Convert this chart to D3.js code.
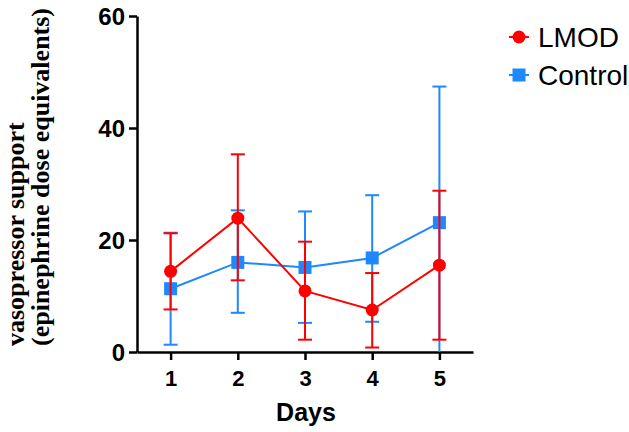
<!DOCTYPE html>
<html>
<head>
<meta charset="utf-8">
<script src="https://cdn.jsdelivr.net/npm/d3@7"></script>
<style>
  html, body { margin: 0; padding: 0; background: #fff; }
  svg { display: block; }
</style>
</head>
<body>
<svg id="chart" width="629" height="432"></svg>
<script>
const days = [1, 2, 3, 4, 5];
const yTicks = [0, 20, 40, 60];
const lmodMean = [14.4, 23.9, 10.9, 7.5, 15.5];
const lmodLow  = [7.6, 12.8, 2.2, 0.8, 2.2];
const lmodHigh = [21.2, 35.3, 19.7, 14.1, 28.8];
const ctrlMean = [11.3, 16.0, 15.1, 16.8, 23.1];
const ctrlLow  = [1.3, 7.0, 5.2, 5.4, 0];
const ctrlHigh = [21.3, 25.3, 25.1, 28.0, 47.4];
const seriesNames = ["LMOD", "Control"];
const colors = ["#ff0000", "#1e88ff"];

const svg = d3.select("#chart");
const x = d3.scaleLinear().domain([0.5, 5.5]).range([137, 473]);
const y = d3.scaleLinear().domain([0, 60]).range([352, 16]);

// axes
const xAxis = svg.append("g").attr("transform", "translate(0,352)")
  .call(d3.axisBottom(x).tickValues(days).tickFormat(d3.format("d")).tickSize(8).tickSizeOuter(0).tickPadding(10));
const yAxis = svg.append("g").attr("transform", "translate(137,0)")
  .call(d3.axisLeft(y).tickValues(yTicks).tickSize(8).tickSizeOuter(0).tickPadding(4));
[xAxis, yAxis].forEach(g => {
  g.select(".domain").attr("stroke", "#000").attr("stroke-width", 2.5);
  g.selectAll(".tick line").attr("stroke", "#000").attr("stroke-width", 2.5);
  g.selectAll(".tick text").attr("fill", "#000")
    .style("font-family", "'Liberation Sans', Arial, sans-serif").style("font-weight", "bold");
});
xAxis.selectAll(".tick text").style("font-size", "22px");
yAxis.selectAll(".tick text").style("font-size", "24px").attr("dy", "0.36em");

svg.append("text").attr("x", 306).attr("y", 421).attr("text-anchor", "middle")
  .style("font-family", "'Liberation Sans', Arial, sans-serif").style("font-weight", "bold")
  .style("font-size", "25px").text("Days");

const yt = svg.append("text").attr("transform", "translate(0,346) rotate(-90)")
  .style("font-family", "'Liberation Serif', 'Times New Roman', serif").style("font-weight", "bold")
  .style("font-size", "26px").attr("text-anchor", "start");
yt.append("tspan").attr("x", 0).attr("y", 24).text("vasopressor support");
yt.append("tspan").attr("x", 0).attr("y", 49).text("(epinephrine dose equivalents)");

const series = [
  {name: seriesNames[0], color: colors[0], mean: lmodMean, low: lmodLow, high: lmodHigh, shape: "circle"},
  {name: seriesNames[1], color: colors[1], mean: ctrlMean, low: ctrlLow, high: ctrlHigh, shape: "square"}
];
const capW = 7;
series.slice().reverse().forEach(s => {
  const g = svg.append("g");
  days.forEach((d, i) => {
    g.append("line").attr("x1", x(d)).attr("x2", x(d)).attr("y1", y(s.low[i])).attr("y2", y(s.high[i]))
      .attr("stroke", s.color).attr("stroke-width", 2);
    [s.low[i], s.high[i]].forEach(v => {
      if (v <= 0) return;
      g.append("line").attr("x1", x(d) - capW).attr("x2", x(d) + capW).attr("y1", y(v)).attr("y2", y(v))
        .attr("stroke", s.color).attr("stroke-width", 2);
    });
  });
  g.append("path").datum(days.map((d, i) => [x(d), y(s.mean[i])]))
    .attr("d", d3.line()).attr("fill", "none").attr("stroke", s.color).attr("stroke-width", 2);
  days.forEach((d, i) => {
    if (s.shape === "circle") {
      g.append("circle").attr("cx", x(d)).attr("cy", y(s.mean[i])).attr("r", 6.5).attr("fill", s.color);
    } else {
      g.append("rect").attr("x", x(d) - 6.5).attr("y", y(s.mean[i]) - 6.5).attr("width", 13).attr("height", 13).attr("fill", s.color);
    }
  });
});

// legend
series.forEach((s, i) => {
  const cy = 37 + i * 38;
  const g = svg.append("g");
  g.append("line").attr("x1", 509).attr("x2", 529).attr("y1", cy).attr("y2", cy).attr("stroke", s.color).attr("stroke-width", 2);
  if (s.shape === "circle") g.append("circle").attr("cx", 519).attr("cy", cy).attr("r", 6.5).attr("fill", s.color);
  else g.append("rect").attr("x", 512.5).attr("y", cy - 6.5).attr("width", 13).attr("height", 13).attr("fill", s.color);
  g.append("text").attr("x", 538).attr("y", cy).attr("dy", "0.36em")
    .style("font-family", "'Liberation Sans', Arial, sans-serif").style("font-size", "28px").text(s.name);
});
</script>
</body>
</html>
